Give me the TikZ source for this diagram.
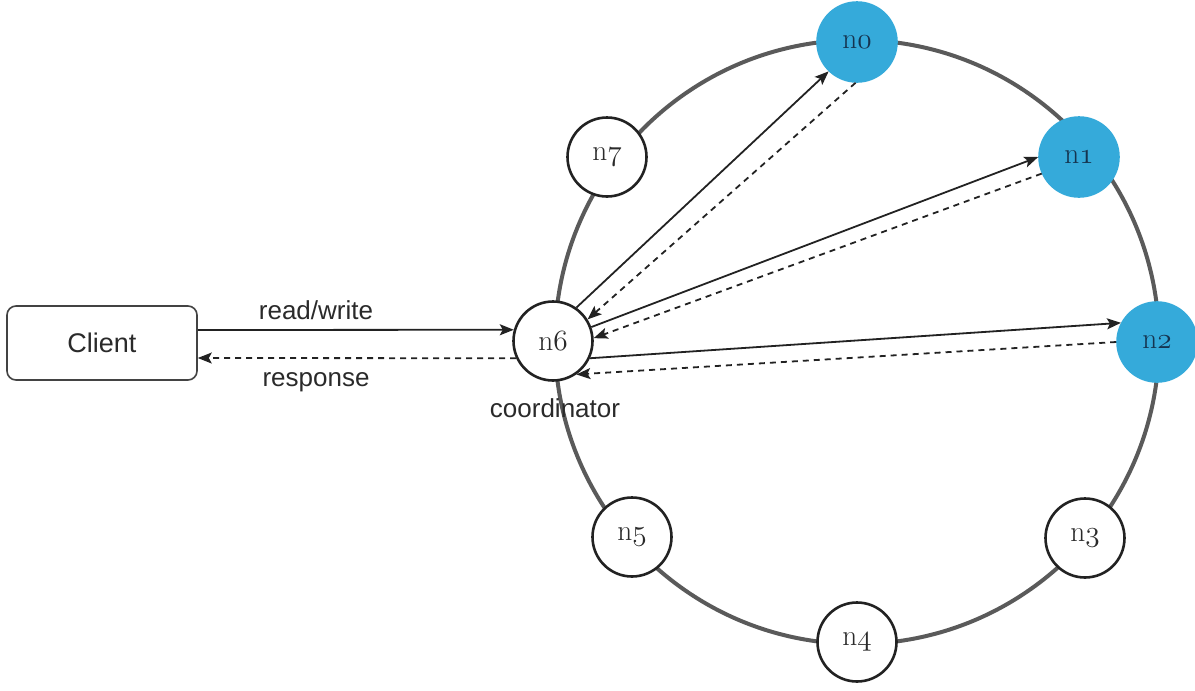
\documentclass[tikz,border=0pt]{standalone}
\usepackage{fontspec}
\usetikzlibrary{arrows.meta}
\newfontfamily\labelsans{Liberation Sans}
\definecolor{ringgray}{HTML}{5A5A5A}
\definecolor{replica}{HTML}{35AADA}
\definecolor{ink}{HTML}{222222}
\definecolor{textgray}{HTML}{2A2A2A}
\definecolor{navy}{HTML}{15344F}
% old-style digits for the node names
\newcommand{\nodename}[1]{\scalebox{1.18}{n$\mathnormal{#1}$}}

\tikzset{
  ringnode/.style={circle, draw=ink, line width=2.6pt, fill=white,
    minimum size=79pt, inner sep=0pt, text=textgray,
    font=\fontsize{24.88}{30}\selectfont},
  replicanode/.style={ringnode, draw=replica, fill=replica, text=navy},
  lbl/.style={text=textgray, font=\labelsans\fontsize{26}{30}\selectfont, inner sep=0pt},
  clientbox/.style={draw=ink!85, line width=1.6pt, rounded corners=9pt, fill=white,
    minimum width=190pt, minimum height=74pt, text=textgray,
    font=\labelsans\fontsize{27}{31}\selectfont},
  tip/.style={-{Stealth[length=14pt,width=11pt,inset=3pt]}},
  req/.style={tip, ink, line width=1.8pt},
  resp/.style={tip, ink, line width=1.8pt, dash pattern=on 6pt off 5pt},
}

\begin{document}
\begin{tikzpicture}[x=1pt,y=-1pt]
\useasboundingbox (0,0) rectangle (1195,691);

% the hash ring
\draw[ringgray, line width=4pt] (857,342) circle[radius=302pt];

% nodes on the ring
\node[replicanode] (n0) at (857,42)  {\nodename{0}};
\node[replicanode] (n1) at (1079,157) {\nodename{1}};
\node[replicanode] (n2) at (1157,342) {\nodename{2}};
\node[ringnode]    (n3) at (1085,538) {\nodename{3}};
\node[ringnode]    (n4) at (857,642) {\nodename{4}};
\node[ringnode]    (n5) at (632,537) {\nodename{5}};
\node[ringnode]    (n6) at (553,341) {\nodename{6}};
\node[ringnode]    (n7) at (607,157) {\nodename{7}};

% client and its labels
\node[clientbox] (client) at (102,343) {Client};
\node[lbl] (rw)    at (316,310) {read/write};
\node[lbl] (rsp)   at (316,382) {response};
\node[lbl] (coord) at (555,408) {coordinator};

% client <-> coordinator
\draw[req]  ([yshift=13pt]client.east) -- (n6.164);
\draw[resp] (n6.205) -- ([yshift=-15pt]client.east);

% coordinator -> replicas and back
\draw[req]  (n6.55)  -- (n0.226);
\draw[resp] (n0.268) -- (n6.32);
\draw[req]  (n6.20)  -- (n1.180);
\draw[resp] (n1.204) -- (n6.4);
\draw[req]  (n6.-25) -- (n2.152);
\draw[resp] (n2.180) -- (n6.-55);
\end{tikzpicture}
\end{document}
